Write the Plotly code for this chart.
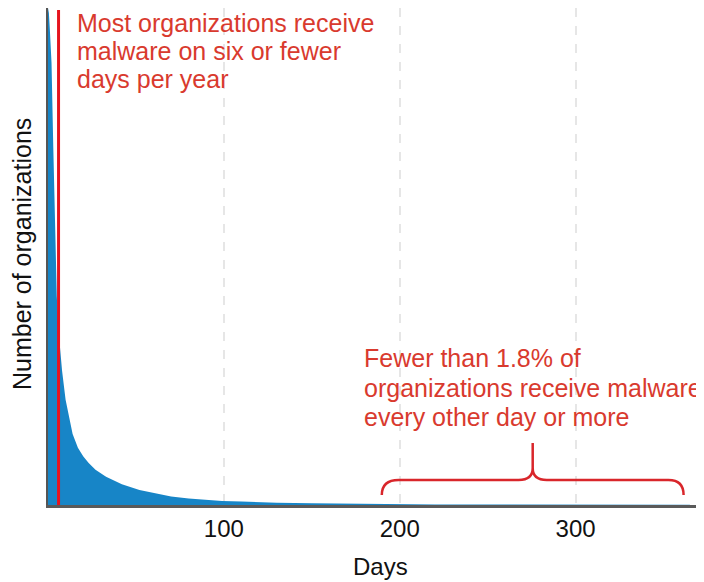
import plotly.graph_objects as go

# ---- data ----
days = [0, 0.5, 1, 2, 3, 4, 5, 6, 7, 8, 10, 12, 14, 17, 20, 23, 27, 33, 42, 52,
        61, 70, 80, 90, 99, 110, 118, 130, 150, 170, 190, 220, 260, 300, 365]
organizations = [100, 99, 96, 89, 72, 55, 42, 35, 31, 27, 21.2, 17.5, 14.3, 11.5, 9.8,
                 8.5, 7.1, 5.7, 4.2, 3.0, 2.4, 1.7, 1.3, 1.0, 0.8, 0.7, 0.6, 0.45,
                 0.35, 0.25, 0.18, 0.12, 0.08, 0.05, 0.03]
tick_vals = [100, 200, 300]
tick_text = ["100", "200", "300"]
threshold_day = 6
note_top = ["Most organizations receive", "malware on six or fewer", "days per year"]
note_bottom = ["Fewer than 1.8% of", "organizations receive malware", "every other day or more"]
brace_days = [189.8, 275.6, 361.4]

RED_TEXT = "#d93a2e"
FONT = "Liberation Sans, Arial, sans-serif"

fig = go.Figure()
fig.add_trace(go.Scatter(
    x=days, y=organizations, mode="lines", fill="tozeroy",
    fillcolor="#1785c7", line=dict(width=0, color="#1785c7"),
    hoverinfo="skip", showlegend=False))

# threshold line
fig.add_shape(type="line", xref="x", yref="paper", x0=threshold_day, x1=threshold_day,
              y0=0, y1=0.996, line=dict(color="#e5141e", width=3))

# brace
l, m, r = brace_days
path = (f"M {l},2 Q {l},5.03 {l+9.6},5.03 L {m-8},5.03 Q {m},5.03 {m},7.44 L {m},12.5 "
        f"M {m},7.44 Q {m},5.03 {m+8},5.03 L {r-8.6},5.03 Q {r},5.03 {r},2")
fig.add_shape(type="path", xref="x", yref="y", path=path,
              line=dict(color="#d9262b", width=2.5))

annotations = []
for i, t in enumerate(note_top):
    annotations.append(dict(text=t, xref="paper", yref="paper", x=0.0411,
                            y=0.970 - i * 0.0565, xanchor="left", yanchor="middle",
                            showarrow=False, font=dict(size=25, color=RED_TEXT, family=FONT)))
for i, t in enumerate(note_bottom):
    annotations.append(dict(text=t, xref="paper", yref="paper", x=0.478,
                            y=0.2958 - i * 0.0594, xanchor="left", yanchor="middle",
                            showarrow=False, font=dict(size=25, color=RED_TEXT, family=FONT)))
annotations.append(dict(text="Number of organizations", xref="paper", yref="paper",
                        x=-0.0396, y=0.505, xanchor="center", yanchor="middle",
                        textangle=-90, showarrow=False,
                        font=dict(size=25, color="#111111", family=FONT)))
annotations.append(dict(text="Days", xref="paper", yref="paper", x=0.507, y=-0.124,
                        xanchor="center", yanchor="middle", showarrow=False,
                        font=dict(size=24, color="#111111", family=FONT)))

# the page body has an 8px margin, so the figure is shifted by 8px;
# size/margins compensate so the plot area lands at x 48..704, y 8..505
fig.update_layout(
    width=696, height=574,
    margin=dict(l=40, r=0, t=0, b=77),
    paper_bgcolor="white", plot_bgcolor="white",
    font=dict(family=FONT, color="#111111"),
    annotations=annotations,
    xaxis=dict(range=[0, 373], tickvals=tick_vals, ticktext=tick_text,
               showgrid=True, gridcolor="#e6e6e6", gridwidth=2, griddash="dash",
               showline=True, linecolor="#5a5a5a", linewidth=3,
               ticks="", tickfont=dict(size=24, color="#111111"),
               zeroline=False, fixedrange=True),
    yaxis=dict(range=[0, 100], showgrid=False, showticklabels=False,
               showline=True, linecolor="#555555", linewidth=2,
               zeroline=False, ticks="", fixedrange=True),
)

fig.write_html("out.html")
